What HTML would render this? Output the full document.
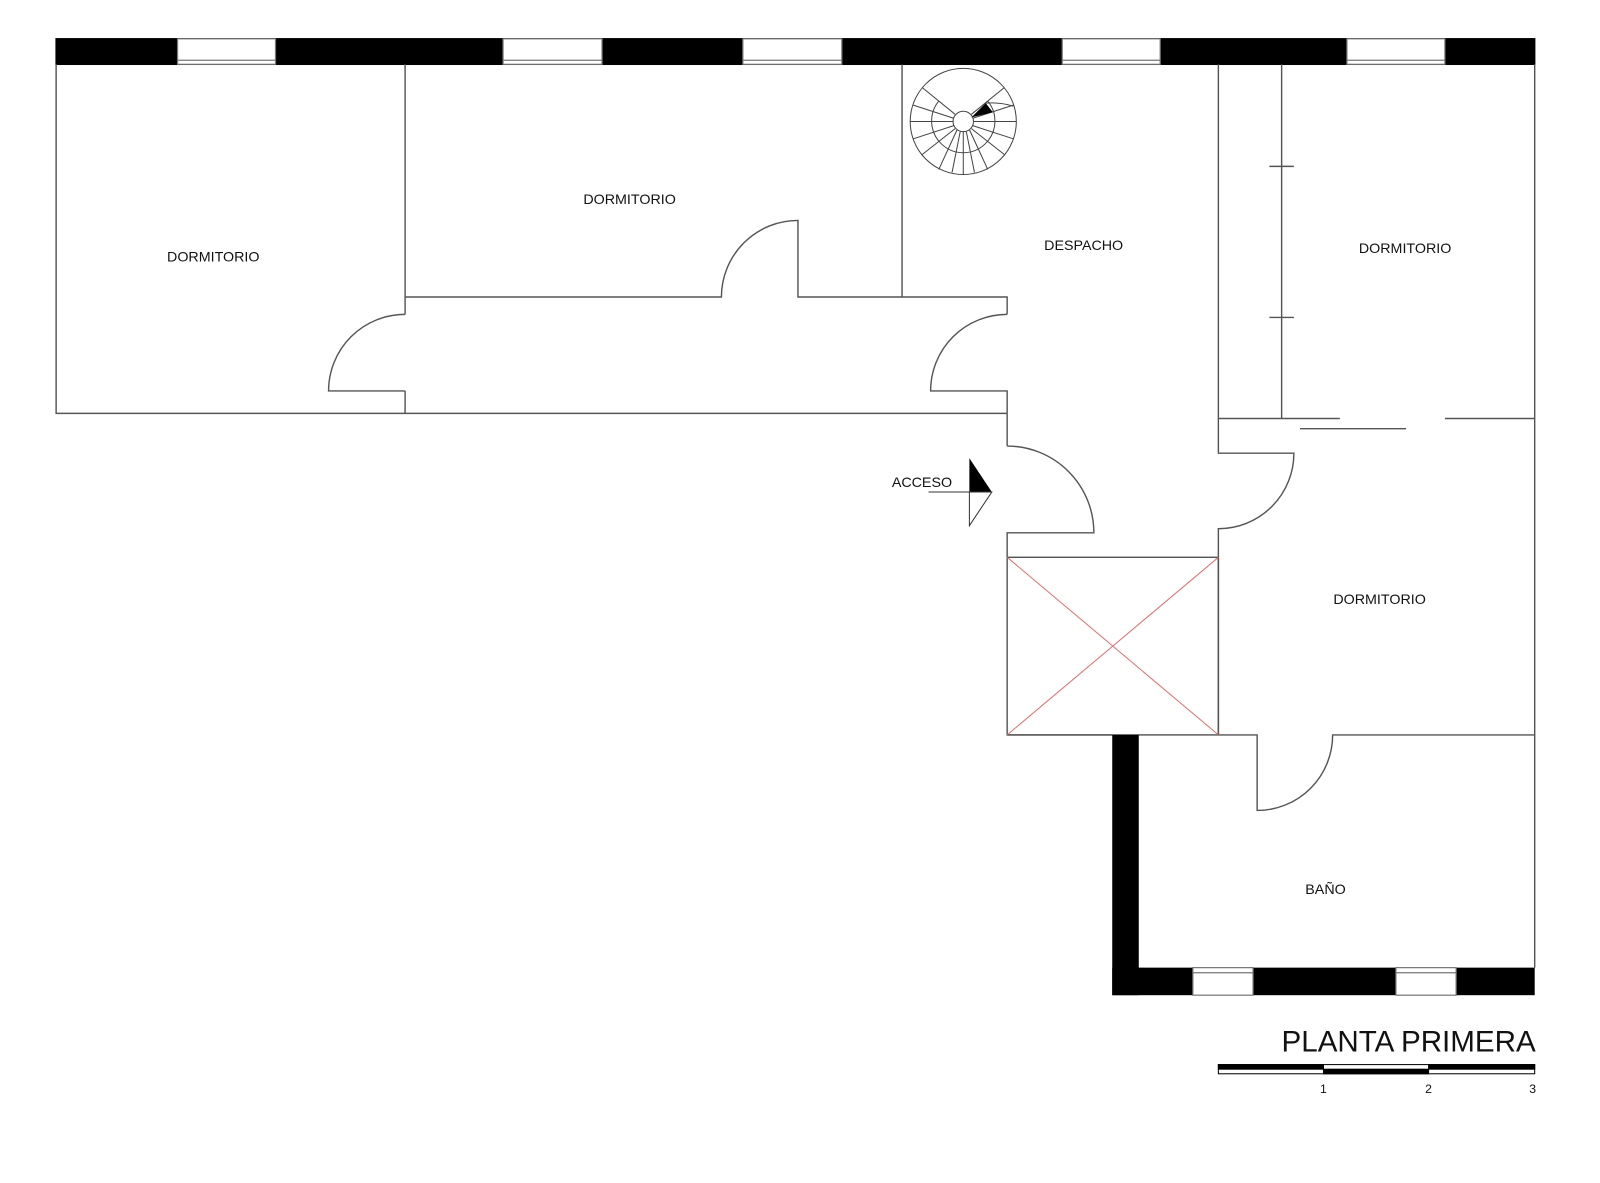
<!DOCTYPE html>
<html><head><meta charset="utf-8"><style>
html,body{margin:0;padding:0;background:#fff;}
svg{display:block}
text{font-family:"Liberation Sans",sans-serif;fill:#111}
</style></head><body>
<svg width="1600" height="1183" viewBox="0 0 1568 1159" preserveAspectRatio="none" xmlns="http://www.w3.org/2000/svg">
<g fill="none" stroke="#555" stroke-width="1.4">
<rect x="55" y="38" width="1449" height="25" fill="#000" stroke="#000"/>
</g>
<g fill="#fff" stroke="#777" stroke-width="1.2">
<rect x="174" y="38" width="96" height="25"/>
<rect x="493" y="38" width="97" height="25"/>
<rect x="728" y="38" width="97" height="25"/>
<rect x="1041" y="38" width="96" height="25"/>
<rect x="1320" y="38" width="96" height="25"/>
</g>
<g stroke="#777" stroke-width="1.2">
<line x1="174" y1="59" x2="270" y2="59"/><line x1="493" y1="59" x2="590" y2="59"/>
<line x1="728" y1="59" x2="825" y2="59"/><line x1="1041" y1="59" x2="1137" y2="59"/>
<line x1="1320" y1="59" x2="1416" y2="59"/>
</g>
<g fill="none" stroke="#555" stroke-width="1.4">
<path d="M55 63 V405 H987"/>
<path d="M397 63 V308 M397 383 V405"/>
<path d="M397 308 A75 75 0 0 0 322 383 H397"/>
<path d="M397 291 H707 A75 75 0 0 1 782 216 V291 H987 V308"/>
<path d="M884 63 V291"/>
<path d="M987 308 A75 75 0 0 0 912 383 H987 V437"/>
<path d="M987 437 A85 85 0 0 1 1072 522 H987 V546"/>
<path d="M1194 63 V444 H1268 A74 74 0 0 1 1194 518 V720"/>
<path d="M1256 63 V410"/>
<path d="M1244 163 H1268 M1244 311 H1268"/>
<path d="M1194 410 H1313 M1274 420 H1378 M1416 410 H1504"/>
<path d="M1504 63 V948"/>
<path d="M1194 720 H1232 V794 A74 74 0 0 0 1306 720 H1504"/>
<path d="M987 720 H1090"/>
<rect x="987" y="546" width="207" height="174"/>
</g>
<g stroke="#e07070" stroke-width="1">
<line x1="987" y1="546" x2="1194" y2="720"/><line x1="1194" y1="546" x2="987" y2="720"/>
</g>
<rect x="1090" y="720" width="26" height="255" fill="#000"/>
<rect x="1090" y="948" width="414" height="27" fill="#000"/>
<g fill="#fff" stroke="#777" stroke-width="1.2">
<rect x="1169" y="948" width="59" height="27"/><rect x="1368" y="948" width="59" height="27"/>
</g>
<g stroke="#777" stroke-width="1.2"><line x1="1169" y1="953" x2="1228" y2="953"/><line x1="1368" y1="953" x2="1427" y2="953"/></g>
<g fill="none" stroke="#444" stroke-width="1">
<circle cx="944" cy="119" r="52"/>
<circle cx="944" cy="119" r="10" fill="#fff"/>
<path d="M920 99 A31 31 0 1 0 968 99"/>
<line x1="952" y1="112" x2="984" y2="86"/>
<line x1="953" y1="116" x2="993" y2="103"/>
<line x1="954" y1="119" x2="996" y2="119"/>
<line x1="953" y1="123" x2="993" y2="136"/>
<line x1="952" y1="126" x2="985" y2="152"/>
<line x1="950" y1="127" x2="968" y2="166"/>
<line x1="947" y1="129" x2="955" y2="169"/>
<line x1="944" y1="129" x2="944" y2="171"/>
<line x1="941" y1="129" x2="933" y2="169"/>
<line x1="938" y1="127" x2="920" y2="166"/>
<line x1="936" y1="126" x2="903" y2="152"/>
<line x1="935" y1="123" x2="895" y2="136"/>
<line x1="934" y1="119" x2="892" y2="119"/>
<line x1="935" y1="116" x2="895" y2="103"/>
<line x1="936" y1="112" x2="904" y2="86"/>
</g>
<path d="M952 115 L966 101 L973 110 Z" fill="#000"/>
<path d="M966 101 Q980 100 993 104" fill="none" stroke="#444" stroke-width="1"/>
<path d="M950 449 L972 482 L950 482 Z" fill="#000"/>
<path d="M950 482 L972 482 L950 515 Z" fill="#fff" stroke="#333" stroke-width="1"/>
<line x1="910" y1="482" x2="972" y2="482" stroke="#333" stroke-width="1"/>
<text x="874" y="477" font-size="14">ACCESO</text>
<g font-size="14" text-anchor="middle">
<text x="209" y="256">DORMITORIO</text>
<text x="617" y="200">DORMITORIO</text>
<text x="1062" y="245">DESPACHO</text>
<text x="1377" y="248">DORMITORIO</text>
<text x="1352" y="592">DORMITORIO</text>
<text x="1299" y="876">BAÑO</text>
</g>
<text x="1505" y="1030" font-size="29" text-anchor="end">PLANTA PRIMERA</text>
<g stroke="#000" stroke-width="1">
<rect x="1194" y="1043" width="310" height="9" fill="#fff"/>
<rect x="1194" y="1043" width="103" height="4.5" fill="#000"/>
<rect x="1297" y="1047.5" width="103" height="4.5" fill="#000"/>
<rect x="1400" y="1043" width="104" height="4.5" fill="#000"/>
</g>
<g font-size="12" text-anchor="middle">
<text x="1297" y="1071">1</text><text x="1400" y="1071">2</text><text x="1502" y="1071">3</text>
</g>
</svg>
</body></html>
